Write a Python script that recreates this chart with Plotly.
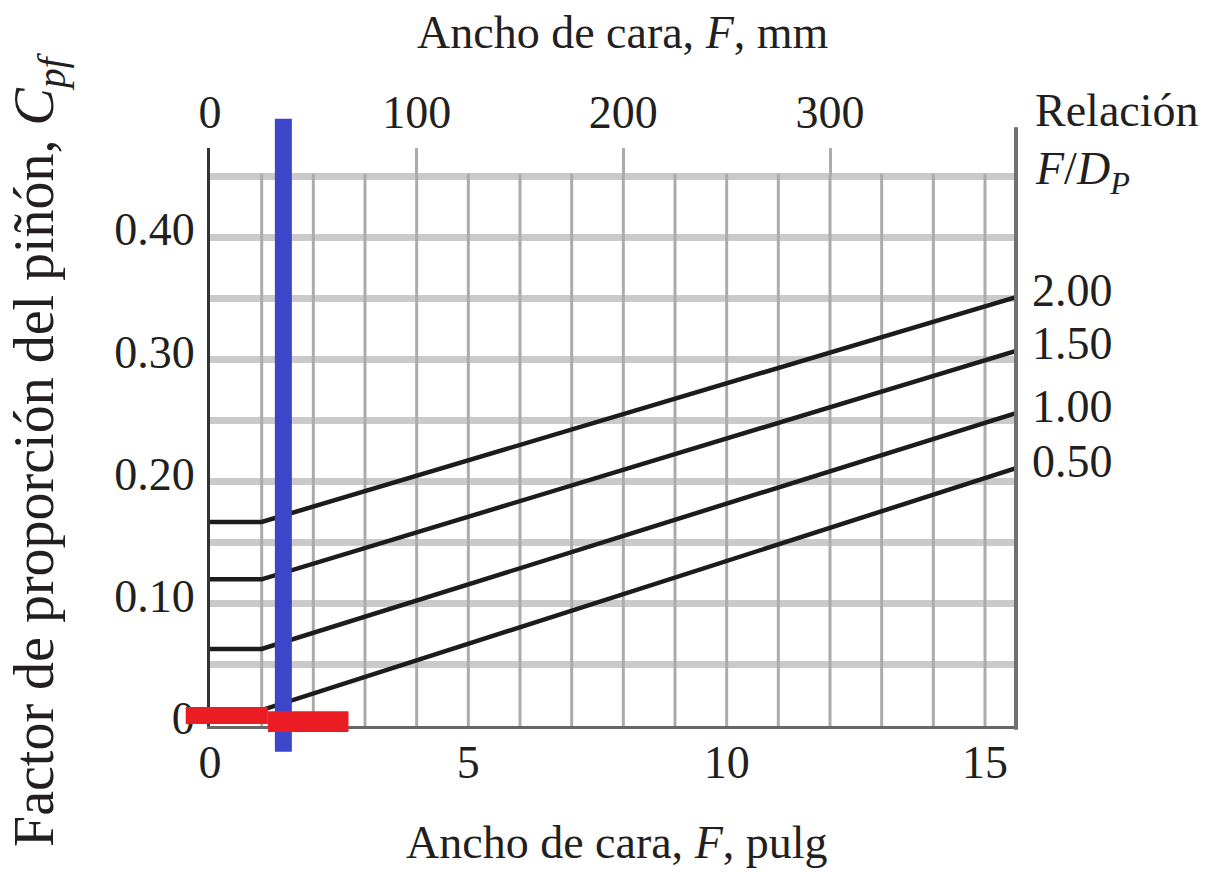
import plotly.graph_objects as go

# ---------------- data ----------------
F_in = [0, 1, 15.6]                      # face width, in (breakpoints of each curve)
ratio_labels = ["2.00", "1.50", "1.00", "0.50"]
cpf_200 = [0.167, 0.167, 0.351]
cpf_150 = [0.120, 0.120, 0.307]
cpf_100 = [0.063, 0.063, 0.256]
cpf_050 = [0.013, 0.013, 0.211]
curves = [cpf_200, cpf_150, cpf_100, cpf_050]

x_tickvals = [0, 5, 10, 15]
x_ticktext = ["0", "5", "10", "15"]
x_grid = list(range(1, 16))
y_tickvals = [0, 0.10, 0.20, 0.30, 0.40]
y_ticktext = ["0", "0.10", "0.20", "0.30", "0.40"]
y_minor_step = 0.05
mm_tickvals = [0, 100, 200, 300]
mm_ticktext = ["0", "100", "200", "300"]

x_range = [0, 15.6]
y_range = [0, 0.473]
mm_range = [0, 390]
grid_top = 0.452

# highlight marks drawn over the chart (data units)
blue_F = 1.42
blue_C = [-0.021, 0.497]
red1_F = [-0.47, 1.12]
red1_C = [0.0016, 0.0155]
red2_F = [1.12, 2.68]
red2_C = [-0.005, 0.012]
right_axis_C = [-0.003, 0.49]

# ---------------- layout geometry ----------------
W, H = 1214, 873
ML, MR, MT, MB = 210, 198, 148, 147
PW, PH = W - ML - MR, H - MT - MB


def px(x):
    return (x - ML) / PW


def py(y):
    return (H - MB - y) / PH


def fx(F):
    return (F - x_range[0]) / (x_range[1] - x_range[0])


def fy(C):
    return (C - y_range[0]) / (y_range[1] - y_range[0])


FONT = "Liberation Serif"
TXT = "#231f20"

fig = go.Figure()

# vertical grid (stops at the 0.45 line)
gx, gy = [], []
for g in x_grid:
    gx += [g, g, None]
    gy += [y_range[0], grid_top, None]
fig.add_trace(go.Scatter(x=gx, y=gy, mode="lines", line=dict(color="#ababab", width=3),
                         hoverinfo="skip", showlegend=False))

for lab, c in zip(ratio_labels, curves):
    fig.add_trace(go.Scatter(x=F_in, y=c, mode="lines", name=lab,
                             line=dict(color="#1c1c1c", width=4.5), showlegend=False))

# dummy trace to activate the top (mm) axis
fig.add_trace(go.Scatter(x=[mm_range[0]], y=[y_range[0]], xaxis="x2", mode="markers",
                         marker=dict(opacity=0), hoverinfo="skip", showlegend=False))

fig.update_layout(
    width=W, height=H,
    margin=dict(l=ML, r=MR, t=MT, b=MB, autoexpand=False),
    plot_bgcolor="white", paper_bgcolor="white",
    font=dict(family=FONT, size=46, color=TXT),
    showlegend=False,
    xaxis=dict(range=x_range, tickvals=x_tickvals, ticktext=x_ticktext,
               showgrid=False, zeroline=False, showline=True, linecolor="#666666",
               linewidth=3, ticks="", ticklabelstandoff=-6, automargin=False,
               tickfont=dict(size=46, family=FONT, color=TXT)),
    xaxis2=dict(range=mm_range, overlaying="x", side="top", tickvals=mm_tickvals,
                ticktext=mm_ticktext, showgrid=False, zeroline=False, showline=False,
                ticks="inside", ticklen=28, tickwidth=3, tickcolor="#ababab",
                ticklabelstandoff=10, automargin=False,
                tickfont=dict(size=46, family=FONT, color=TXT)),
    yaxis=dict(range=y_range, tickvals=y_tickvals, ticktext=y_ticktext,
               showgrid=True, gridcolor="#cacaca", gridwidth=7,
               minor=dict(dtick=y_minor_step, tick0=0, showgrid=True,
                          gridcolor="#cacaca", gridwidth=7),
               zeroline=False, showline=True, linecolor="#333333", linewidth=3,
               ticks="", ticklabelstandoff=3, ticklabelshift=-8, automargin=False,
               tickfont=dict(size=46, family=FONT, color=TXT)),
)

ann = []
ann.append(dict(text="Ancho de cara, <i>F</i>, mm", x=px(623), y=py(33), xref="paper",
                yref="paper", showarrow=False, xanchor="center", yanchor="middle",
                font=dict(size=46)))
ann.append(dict(text="Ancho de cara, <i>F</i>, pulg", x=px(617), y=py(842), xref="paper",
                yref="paper", showarrow=False, xanchor="center", yanchor="middle",
                font=dict(size=46)))
ann.append(dict(text="Factor de proporción del piñón, <i>C</i><sub><i>pf</i></sub>",
                x=px(38), y=py(450), xref="paper", yref="paper", showarrow=False,
                textangle=-90, xanchor="center", yanchor="middle", font=dict(size=56)))
ann.append(dict(text="Relación", x=px(1033), y=py(110), xref="paper", yref="paper",
                showarrow=False, xanchor="left", yanchor="middle", font=dict(size=46)))
ann.append(dict(text="<i>F</i>/<i>D</i><sub><i>P</i></sub>", x=px(1033), y=py(172),
                xref="paper", yref="paper", showarrow=False, xanchor="left",
                yanchor="middle", font=dict(size=46)))
for lab, c in zip(ratio_labels, curves):
    ann.append(dict(text=lab, x=F_in[-1], y=c[-1], xref="x", yref="y", showarrow=False,
                    xanchor="left", yanchor="middle", xshift=14, yshift=7,
                    font=dict(size=46)))
fig.update_layout(annotations=ann)

shapes = []
# right axis line (extends above the plot)
shapes.append(dict(type="line", xref="paper", yref="paper", x0=1, x1=1,
                   y0=fy(right_axis_C[0]), y1=fy(right_axis_C[1]),
                   line=dict(color="#707070", width=4), layer="above"))
# blue vertical highlight
shapes.append(dict(type="line", xref="paper", yref="paper", x0=fx(blue_F), x1=fx(blue_F),
                   y0=fy(blue_C[0]), y1=fy(blue_C[1]),
                   line=dict(color="#3d46c8", width=17), layer="above"))
# red horizontal highlight
shapes.append(dict(type="rect", xref="paper", yref="paper", x0=fx(red1_F[0]), x1=fx(red1_F[1]),
                   y0=fy(red1_C[0]), y1=fy(red1_C[1]), fillcolor="#ec1c24",
                   line=dict(width=0), layer="above"))
shapes.append(dict(type="rect", xref="paper", yref="paper", x0=fx(red2_F[0]), x1=fx(red2_F[1]),
                   y0=fy(red2_C[0]), y1=fy(red2_C[1]), fillcolor="#ec1c24",
                   line=dict(width=0), layer="above"))
fig.update_layout(shapes=shapes)

fig.write_html("out.html", config={"displayModeBar": False},
               post_script="document.body.style.margin='0';document.body.style.overflow='hidden';")
